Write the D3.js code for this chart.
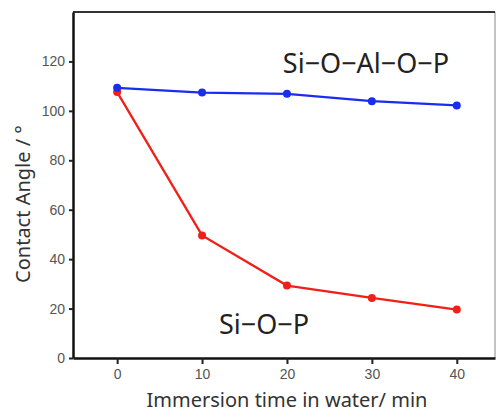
<!DOCTYPE html>
<html lang="en">
<head>
    <meta charset="UTF-8">
    <title>Contact angle</title>
    <script src="https://d3js.org/d3.v7.min.js"></script>
    <style>
        body { margin: 0; background: #fff; }
        svg { display: block; font-family: "Noto Sans", sans-serif; }
        .tick text { fill: #555; font-size: 14px; }
    </style>
</head>
<body>
<script>
    var w = 500, h = 409;
    var times = [0, 10, 20, 30, 40];
    var siOAlOP = [109.3, 107.4, 106.9, 103.9, 102.2];
    var siOP = [107.6, 49.6, 29.3, 24.3, 19.6];
    var xTicks = [0, 10, 20, 30, 40];
    var yTicks = [0, 20, 40, 60, 80, 100, 120];

    var plotL = 73, plotR = 495, plotT = 12, plotB = 358;

    var svg = d3.select("body").append("svg")
        .attr("width", w)
        .attr("height", h);

    var x = d3.scaleLinear().domain([-5.2, 44.5]).range([plotL, plotR]);
    var y = d3.scaleLinear().domain([0, 140]).range([plotB, plotT]);

    // frame: thin right, dark top
    svg.append("line").attr("x1", plotR).attr("x2", plotR).attr("y1", plotT).attr("y2", plotB)
        .attr("stroke", "#888").attr("stroke-width", 1);
    svg.append("line").attr("x1", plotL).attr("x2", plotR).attr("y1", plotT).attr("y2", plotT)
        .attr("stroke", "#333").attr("stroke-width", 2);

    var xAxis = svg.append("g")
        .attr("transform", "translate(0," + plotB + ")")
        .call(d3.axisBottom(x).tickValues(xTicks).tickSize(6).tickPadding(5).tickSizeOuter(0));
    var yAxis = svg.append("g")
        .attr("transform", "translate(" + plotL + ",0)")
        .call(d3.axisLeft(y).tickValues(yTicks).tickSize(4).tickPadding(4).tickSizeOuter(0));
    [xAxis, yAxis].forEach(function(g) {
        g.select(".domain").attr("stroke", "#111").attr("stroke-width", 2.5);
        g.selectAll(".tick line").attr("stroke", "#222").attr("stroke-width", 2);
    });

    var line = d3.line()
        .x(function(d) { return x(d[0]); })
        .y(function(d) { return y(d[1]); });

    function drawSeries(vals, color) {
        var pts = times.map(function(t, i) { return [t, vals[i]]; });
        svg.append("path").datum(pts)
            .attr("fill", "none")
            .attr("stroke", color)
            .attr("stroke-width", 2.3)
            .attr("d", line);
        svg.selectAll(null).data(pts).enter().append("circle")
            .attr("cx", function(d) { return x(d[0]); })
            .attr("cy", function(d) { return y(d[1]); })
            .attr("r", 4)
            .attr("fill", color);
    }
    drawSeries(siOP, "#f02018");
    drawSeries(siOAlOP, "#1a2cf0");

    svg.append("text").attr("x", 366).attr("y", 73)
        .attr("text-anchor", "middle").attr("font-size", 27).attr("fill", "#222")
        .text("Si−O−Al−O−P");
    svg.append("text").attr("x", 264).attr("y", 334)
        .attr("text-anchor", "middle").attr("font-size", 27).attr("fill", "#222")
        .text("Si−O−P");

    svg.append("text")
        .attr("transform", "translate(30,204) rotate(-90)")
        .attr("text-anchor", "middle").attr("font-size", 20).attr("fill", "#333")
        .text("Contact Angle / °");
    svg.append("text").attr("x", 287).attr("y", 407)
        .attr("text-anchor", "middle").attr("font-size", 20).attr("fill", "#333")
        .text("Immersion time in water/ min");
</script>
</body>
</html>
